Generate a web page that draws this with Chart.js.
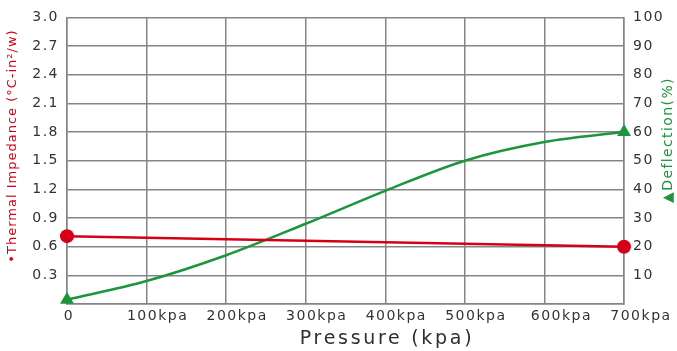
<!DOCTYPE html>
<html><head><meta charset="utf-8">
<script src="https://cdn.jsdelivr.net/npm/chart.js@4/dist/chart.umd.min.js"></script>
<style>html,body{margin:0;padding:0;background:#fff;overflow:hidden}canvas{display:block}</style>
</head><body>
<canvas id="c" width="677" height="351"></canvas>
<script>
// ---- data ----
const xTickValues = [0, 100, 200, 300, 400, 500, 600, 700];
const xTickLabels = ['0', '100kpa', '200kpa', '300kpa', '400kpa', '500kpa', '600kpa', '700kpa'];
const impedancePressure = [0, 700];
const impedanceValues = [0.71, 0.60];
const deflectionPressure = [0, 100, 200, 300, 400, 500, 600, 700];
const deflectionValues = [1.5, 8, 17, 28, 39.5, 50, 56.5, 60];
const leftTickValues = [0.3, 0.6, 0.9, 1.2, 1.5, 1.8, 2.1, 2.4, 2.7, 3.0];
const rightTickValues = [10, 20, 30, 40, 50, 60, 70, 80, 90, 100];
const xTitle = 'Pressure (kpa)';
const leftTitle = '\u2022Thermal Impedance (\u00B0C-in\u00B2/w)';
const rightTitle = '\u25B2Deflection(%)';

const RED = 'rgb(214,0,22)';
const GREEN = 'rgb(28,150,58)';
const GRID = '#858585';
const TXT = '#333333';
const FONT = 'DejaVu Sans, Verdana, sans-serif';

const spacingPlugin = {
  id: 'spacing',
  beforeLayout(chart) { chart.ctx.letterSpacing = '1.5px'; },
  beforeDraw(chart) { chart.ctx.letterSpacing = '1.5px'; }
};

const titlesPlugin = {
  id: 'titles',
  afterDraw(chart) {
    const ctx = chart.ctx;
    ctx.save();
    ctx.textBaseline = 'middle';
    ctx.textAlign = 'center';
    // x title
    ctx.letterSpacing = '2.7px';
    ctx.font = '19px ' + FONT;
    ctx.fillStyle = '#2e2e2e';
    ctx.fillText(xTitle, 387, 339);
    // left title
    ctx.save();
    ctx.letterSpacing = '1px';
    ctx.font = '13px ' + FONT;
    ctx.fillStyle = RED;
    ctx.translate(13, 146);
    ctx.rotate(-Math.PI / 2);
    ctx.fillText(leftTitle, 0, 0);
    ctx.restore();
    // right title
    ctx.save();
    ctx.letterSpacing = '1.4px';
    ctx.font = '14px ' + FONT;
    ctx.fillStyle = GREEN;
    ctx.translate(668, 140);
    ctx.rotate(-Math.PI / 2);
    ctx.fillText(rightTitle, 0, 0);
    ctx.restore();
    ctx.restore();
  }
};

function xLabel(v) {
  const i = xTickValues.indexOf(v);
  if (i < 0) return '';
  let s = xTickLabels[i];
  if (v === 0) s = s + '   ';
  if (v >= 600) s = '  ' + s;
  return s;
}

new Chart(document.getElementById('c'), {
  type: 'line',
  data: {
    datasets: [
      {
        label: 'Thermal Impedance',
        data: impedancePressure.map((x, i) => ({ x, y: impedanceValues[i] })),
        yAxisID: 'y',
        borderColor: RED,
        backgroundColor: RED,
        borderWidth: 2.5,
        pointStyle: 'circle',
        pointRadius: 7,
        pointBorderWidth: 0,
        clip: false
      },
      {
        label: 'Deflection',
        data: deflectionPressure.map((x, i) => ({ x, y: deflectionValues[i] })),
        yAxisID: 'y2',
        borderColor: GREEN,
        backgroundColor: GREEN,
        borderWidth: 2.5,
        cubicInterpolationMode: 'monotone',
        pointStyle: 'triangle',
        pointRadius: deflectionPressure.map((x, i) => (i === 0 || i === deflectionPressure.length - 1) ? 8 : 0),
        pointBorderWidth: 0,
        clip: false
      }
    ]
  },
  options: {
    responsive: false,
    animation: false,
    devicePixelRatio: 1,
    layout: { padding: { top: 15, left: 0, right: 0, bottom: 0 } },
    plugins: { legend: { display: false }, tooltip: { enabled: false } },
    scales: {
      x: {
        type: 'linear',
        min: 0, max: 700,
        afterBuildTicks: s => { s.ticks = xTickValues.map(v => ({ value: v })); },
        afterFit: s => { s.height = 47; },
        grid: { color: GRID, lineWidth: 1.5, drawTicks: false },
        border: { color: GRID, width: 1.5 },
        ticks: {
          callback: v => xLabel(v),
          color: TXT,
          font: { family: FONT, size: 14 },
          padding: 4,
          labelOffset: 11,
          maxRotation: 0,
          autoSkip: false
        }
      },
      y: {
        position: 'left',
        min: 0, max: 3.0,
        afterBuildTicks: s => { s.ticks = [0].concat(leftTickValues).map(v => ({ value: v })); },
        afterFit: s => { s.width = 67; },
        grid: { color: GRID, lineWidth: 1.5, drawTicks: false },
        border: { color: GRID, width: 1.5 },
        ticks: {
          callback: v => (leftTickValues.includes(v) ? v.toFixed(1) : ''),
          color: TXT,
          font: { family: FONT, size: 14 },
          padding: 8
        }
      },
      y2: {
        position: 'right',
        min: 0, max: 100,
        afterBuildTicks: s => { s.ticks = [0].concat(rightTickValues).map(v => ({ value: v })); },
        afterFit: s => { s.width = 53; },
        grid: { display: false, drawTicks: false },
        border: { color: GRID, width: 1.5 },
        ticks: {
          callback: v => (rightTickValues.includes(v) ? String(v) : ''),
          color: TXT,
          font: { family: FONT, size: 14 },
          padding: 9
        }
      }
    }
  },
  plugins: [spacingPlugin, titlesPlugin]
});
</script>
</body></html>
